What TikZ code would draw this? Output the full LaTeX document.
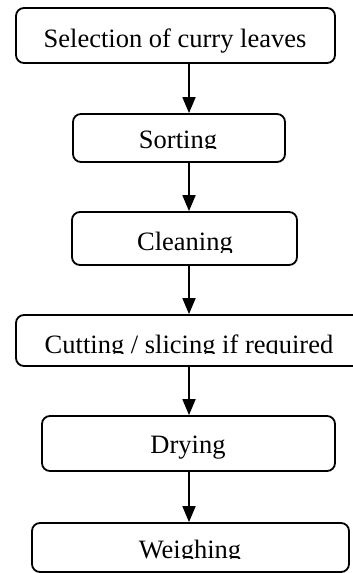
\documentclass[tikz,border=0pt]{standalone}
\usepackage{fontspec}
\setmainfont{Liberation Serif}
\usetikzlibrary{arrows.meta}
\begin{document}
\begin{tikzpicture}[x=1pt,y=-1pt,
  box/.style={draw, line width=1.8pt, rounded corners=8pt, inner sep=0pt},
  lbl/.style={anchor=base, inner sep=0pt, font=\fontsize{26.5}{30}\selectfont},
  arr/.style={line width=1.8pt, -{Triangle[length=16pt,width=13pt]}}]
\useasboundingbox (0,0) rectangle (353,573);
\coordinate (ax) at (189,0);
% boxes
\node[box, minimum width=319pt, minimum height=55pt] (b1) at (175.5,35.5) {};
\node[box, minimum width=212pt, minimum height=48pt] (b2) at (179,138) {};
\node[box, minimum width=225pt, minimum height=53pt] (b3) at (184.5,238.5) {};
\node[box, minimum width=349pt, minimum height=51pt] (b4) at (190.5,340.5) {};
\node[box, minimum width=293pt, minimum height=55pt] (b5) at (188.5,443.5) {};
\node[box, minimum width=317pt, minimum height=49pt] (b6) at (190.5,547.5) {};
% labels
\node[lbl] (t1) at (175,47) {Selection of curry leaves};
\begin{scope}
\clip (0,100) rectangle (353,148.5);
\node[lbl] (t2) at (178,148.3) {Sorting};
\end{scope}
\begin{scope}
\clip (0,200) rectangle (353,252);
\node[lbl] (t3) at (185,250) {Cleaning};
\end{scope}
\begin{scope}
\clip (0,300) rectangle (353,353.5);
\node[lbl] (t4) at (189,353.3) {Cutting / slicing if required};
\end{scope}
\node[lbl] (t5) at (188,453) {Drying};
\begin{scope}
\clip (0,500) rectangle (353,558.5);
\node[lbl] (t6) at (190,558.3) {Weighing};
\end{scope}
% arrows
\draw[arr] (b1.south -| ax) -- (b2.north -| ax);
\draw[arr] (b2.south -| ax) -- (b3.north -| ax);
\draw[arr] (b3.south -| ax) -- (b4.north -| ax);
\draw[arr] (b4.south -| ax) -- (b5.north -| ax);
\draw[arr] (b5.south -| ax) -- (b6.north -| ax);
\end{tikzpicture}
\end{document}
